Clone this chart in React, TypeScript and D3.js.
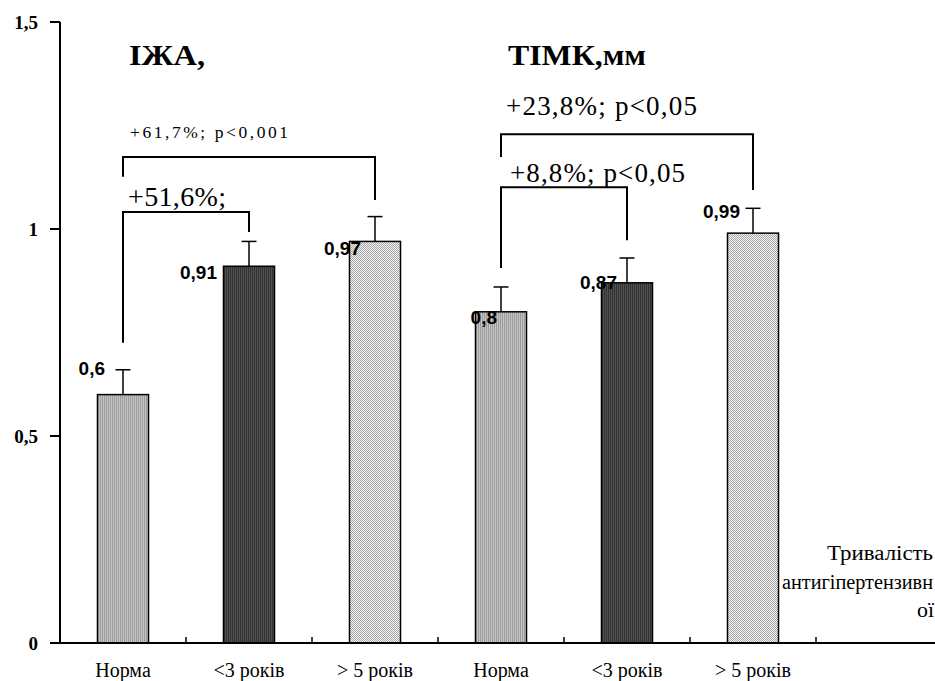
import React from 'react';
import * as d3 from 'd3';

// data
const groupTitles = ['ІЖА,', 'ТІМК,мм'];
const periods = ['Норма', '<3 років', '> 5 років'];
const categories = [...periods, ...periods];
const values = [0.6, 0.91, 0.97, 0.8, 0.87, 0.99];
const errors = [0.06, 0.06, 0.06, 0.06, 0.06, 0.06];
const valueLabels = ['0,6', '0,91', '0,97', '0,8', '0,87', '0,99'];
const yTicks = [0, 0.5, 1, 1.5];
const yTickLabels = ['0', '0,5', '1', '1,5'];
const comparisonTexts = ['+61,7%; p<0,001', '+51,6%;', '+23,8%; p<0,05', '+8,8%; p<0,05'];
const comparisonFrom = [0, 0, 3, 3];
const comparisonTo = [2, 1, 5, 4];
const axisNote = ['Тривалість', 'антигіпертензивн', 'ої'];

// layout only
const W = 935;
const H = 681;
const left = 60;
const top = 22;
const bottom = 643;
const serif = 'Liberation Serif';
const sans = 'Liberation Sans';
const labelNudgeX = [-18, -32, -14, -4, -10, -13];
const labelNudgeY = [-26, 6, 7, 6, 0, -22];
// bracket geometry in axis units: bar level, left leg end, right leg end
const bracketTop = [1.174, 1.041, 1.229, 1.101];
const bracketLeftEnd = [1.126, 0.725, 1.174, 0.906];
const bracketRightEnd = [1.07, 0.993, 1.094, 0.973];
const bracketTextStyle = [
  { x: 130, y: 138, size: 17.5, len: 158 },
  { x: 128, y: 206, size: 28, len: 98 },
  { x: 506, y: 115, size: 27, len: 191 },
  { x: 510, y: 182, size: 27, len: 175 },
];
const titleX = [129, 508];
const titleLen = [76, 138];
const noteX = [827, 782, 917];
const noteY = [560, 589, 617];
const noteLen = [106, 151, 17];
const fills = ['url(#pNorm)', 'url(#pShort)', 'url(#pLong)'];

const x = d3.scaleBand<number>()
  .domain(d3.range(categories.length + 1))
  .range([left, left + 126 * 7])
  .paddingInner(0.595)
  .paddingOuter(0.2975);
const y = d3.scaleLinear().domain([0, 1.5]).range([bottom, top]);
const cx = (i: number) => (x(i) as number) + x.bandwidth() / 2;

export default function App() {
  const boundaries = d3.range(1, categories.length + 1)
    .map(i => (x(i) as number) - x.step() * x.paddingInner() / 2);

  return (
    <svg width={W} height={H} style={{ position: 'absolute', left: 0, top: 0, display: 'block' }}>
      <defs>
        <pattern id="pNorm" width={2} height={2} patternUnits="userSpaceOnUse">
          <rect width={2} height={2} fill="#c4c4c4" />
          <rect width={1} height={2} fill="#9c9c9c" />
        </pattern>
        <pattern id="pShort" width={2} height={2} patternUnits="userSpaceOnUse">
          <rect width={2} height={2} fill="#505050" />
          <rect width={1} height={2} fill="#333333" />
        </pattern>
        <pattern id="pLong" width={2} height={2} patternUnits="userSpaceOnUse">
          <rect width={2} height={2} fill="#f2f2f2" />
          <rect width={1} height={1} fill="#a8a8a8" />
          <rect x={1} y={1} width={1} height={1} fill="#a8a8a8" />
        </pattern>
      </defs>
      <rect width={W} height={H} fill="#fff" />

      {/* bars */}
      {values.map((v, i) => (
        <rect key={'b' + i} x={x(i)} y={y(v)} width={x.bandwidth()} height={bottom - y(v)}
          fill={fills[i % 3]} stroke="#000" strokeWidth={1.5} />
      ))}

      {/* error bars, upper only */}
      <g stroke="#000" strokeWidth={1.5}>
        {values.map((v, i) => (
          <g key={'e' + i}>
            <line x1={cx(i)} x2={cx(i)} y1={y(v)} y2={y(v + errors[i])} />
            <line x1={cx(i) - 7.5} x2={cx(i) + 7.5} y1={y(v + errors[i])} y2={y(v + errors[i])} />
          </g>
        ))}
      </g>

      {/* value labels */}
      {valueLabels.map((t, i) => (
        <text key={'l' + i} x={cx(i) + labelNudgeX[i]} y={y(values[i]) + labelNudgeY[i]} dy="0.35em"
          textAnchor="end" fontWeight="bold" fontSize={19} style={{ fontFamily: sans }}>
          {t}
        </text>
      ))}

      {/* y axis */}
      <line x1={left} x2={left} y1={top} y2={bottom} stroke="#000" strokeWidth={2} />
      {yTicks.map((t, i) => (
        <g key={'y' + i}>
          <line x1={left - 10} x2={left} y1={y(t)} y2={y(t)} stroke="#000" strokeWidth={2} />
          <text x={38} y={y(t)} dy="0.35em" textAnchor="end" fontWeight="bold" fontSize={19}
            style={{ fontFamily: serif }}>
            {yTickLabels[i]}
          </text>
        </g>
      ))}

      {/* x axis */}
      <line x1={left - 10} x2={W} y1={bottom} y2={bottom} stroke="#000" strokeWidth={2} />
      {boundaries.map((bx, i) => (
        <line key={'t' + i} x1={bx} x2={bx} y1={bottom} y2={bottom - 6} stroke="#000" strokeWidth={1.5} />
      ))}
      {categories.map((c, i) => (
        <text key={'c' + i} x={cx(i)} y={677} textAnchor="middle" fontSize={20} style={{ fontFamily: serif }}>
          {c}
        </text>
      ))}

      {/* group titles */}
      {groupTitles.map((t, i) => (
        <text key={'g' + i} x={titleX[i]} y={65} fontWeight="bold" fontSize={30}
          textLength={titleLen[i]} lengthAdjust="spacingAndGlyphs" style={{ fontFamily: serif }}>
          {t}
        </text>
      ))}

      {/* comparison brackets */}
      <g fill="none" stroke="#000" strokeWidth={2}>
        {comparisonTexts.map((t, i) => (
          <path key={'p' + i}
            d={`M${cx(comparisonFrom[i])},${y(bracketLeftEnd[i])}V${y(bracketTop[i])}H${cx(comparisonTo[i])}V${y(bracketRightEnd[i])}`} />
        ))}
      </g>
      {comparisonTexts.map((t, i) => {
        const s = bracketTextStyle[i];
        return (
          <text key={'s' + i} x={s.x} y={s.y} fontSize={s.size} textLength={s.len} lengthAdjust="spacing"
            style={{ fontFamily: serif }}>
            {t}
          </text>
        );
      })}

      {/* axis note at the right edge */}
      {axisNote.map((t, i) => (
        <text key={'n' + i} x={noteX[i]} y={noteY[i]} fontSize={20} textLength={noteLen[i]}
          lengthAdjust="spacingAndGlyphs" style={{ fontFamily: serif }}>
          {t}
        </text>
      ))}
    </svg>
  );
}
